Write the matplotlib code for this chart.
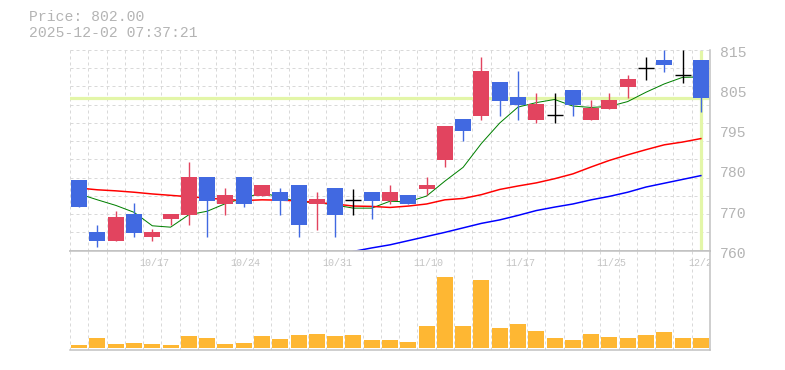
import matplotlib
matplotlib.use("Agg")
import matplotlib.pyplot as plt
import matplotlib.transforms as mtransforms
import numpy as np

# ---------------- data ----------------
dates = ["10/10", "10/14", "10/15", "10/16", "10/17", "10/20", "10/21", "10/22", "10/23", "10/24",
         "10/27", "10/28", "10/29", "10/30", "10/31", "11/4", "11/5", "11/6", "11/7", "11/10",
         "11/11", "11/12", "11/13", "11/14", "11/17", "11/18", "11/19", "11/20", "11/21", "11/25",
         "11/26", "11/27", "11/28", "12/1", "12/2"]
label_dates = ["10/17", "10/24", "10/31", "11/10", "11/17", "11/25", "12/2"]

opens = [778.3, 763.5, 760.9, 768.7, 762.0, 767.3, 768.4, 779.2, 771.6, 779.2,
         773.7, 775.1, 777.1, 771.6, 776.0, 772.7, 775.1, 772.5, 774.0, 775.7,
         784.1, 796.0, 796.9, 806.7, 802.4, 795.8, 797.1, 804.3, 795.8, 799.0,
         805.4, 810.7, 813.1, 808.8, 813.1]
highs = [778.3, 765.5, 769.6, 771.9, 764.4, 768.7, 783.5, 779.2, 776.0, 779.2,
         777.1, 776.0, 777.1, 775.1, 776.0, 775.9, 775.1, 777.1, 774.0, 779.2,
         794.0, 796.0, 814.0, 806.7, 809.9, 803.5, 803.5, 804.3, 801.5, 803.5,
         808.8, 813.9, 816.0, 816.0, 813.1]
lows = [770.6, 759.0, 760.9, 762.0, 760.9, 765.3, 765.3, 762.0, 768.4, 770.6,
        773.7, 768.4, 762.0, 764.1, 762.0, 768.4, 767.3, 771.6, 771.6, 774.0,
        782.2, 789.6, 795.7, 796.9, 795.7, 794.9, 794.9, 797.0, 795.8, 799.0,
        802.2, 807.4, 809.7, 806.6, 798.1]
closes = [770.6, 760.9, 767.6, 763.2, 763.5, 768.7, 779.2, 772.5, 774.0, 771.6,
          777.1, 772.5, 765.3, 772.8, 768.4, 772.7, 772.5, 775.1, 771.6, 777.1,
          794.0, 792.5, 809.9, 801.2, 800.1, 800.3, 797.1, 800.1, 799.3, 801.5,
          807.6, 810.7, 811.7, 808.8, 802.0]
volumes = [800, 2900, 1100, 1400, 1100, 800, 3500, 2900, 1100, 1400,
           3500, 2600, 3800, 4100, 3500, 3800, 2300, 2300, 1700, 6500,
           21200, 6500, 20300, 5900, 7100, 5000, 2900, 2300, 4100, 3200,
           2900, 3800, 4700, 2900, 2900]

ma5 = [774.4, 772.7, 771.1, 769.1, 765.2, 764.8, 768.4, 769.4, 771.6, 773.2,
       774.7, 773.5, 772.1, 771.9, 771.2, 770.3, 770.3, 772.3, 772.1, 773.8,
       778.1, 782.1, 789.0, 794.9, 799.5, 800.8, 801.7, 799.8, 799.4, 799.7,
       801.1, 803.8, 806.2, 808.1, 808.2]
ma25 = [776.1, 775.6, 775.3, 774.9, 774.4, 774.0, 773.6, 773.2, 772.8, 772.5,
        772.7, 772.6, 772.4, 771.9, 771.5, 770.9, 770.8, 770.5, 770.9, 771.5,
        772.7, 773.1, 774.2, 775.7, 776.7, 777.6, 778.8, 780.2, 782.2, 784.1,
        785.7, 787.2, 788.6, 789.4, 790.4]
ma75 = [None] * 15 + [757.8, 758.8, 759.7, 760.9, 762.1, 763.3, 764.6, 765.9, 766.9, 768.2,
                      769.6, 770.6, 771.5, 772.7, 773.7, 774.9, 776.4, 777.5, 778.6, 779.7]

price_labels = ["760", "770", "780", "795", "805", "815"]
current_price = 802.00
timestamp = "2025-12-02 07:37:21"

# ---------------- style ----------------
W, H, DPI = 785, 370, 100
UP = "#e2445f"
DOWN = "#4169e1"
VOLC = "#feb733"
GRID = "#d9d9d9"
BORDER = "#c0c0c0"
TXT = "#b4b4b4"
CUR = "#e3f6a8"
FONT = "Liberation Mono"
px = 72.0 / DPI

fig = plt.figure(figsize=(W / DPI, H / DPI), dpi=DPI)
fig.patch.set_facecolor("white")

ax = fig.add_axes([70 / W, 1 - 250.7 / H, 640 / W, 200.7 / H])
axv = fig.add_axes([70 / W, 1 - 350 / H, 640 / W, 99 / H])

n = len(closes)
x = np.arange(n) + 0.5
ymin, ymax = 758.0, 816.0

# grids
for a in (ax, axv):
    for k in range(0, n):
        a.axvline(k, color=GRID, lw=1 * px, ls=(0, (3, 3)), zorder=0)
for k in range(0, 12):
    ax.axhline(ymin + k * (ymax - ymin) / 11, color=GRID, lw=1 * px, ls=(0, (3, 3)), zorder=0)

# current price lines
ax.axhline(current_price, color=CUR, lw=3.2 * px, zorder=1)
ax.axvline(x[-1], color=CUR, lw=3.2 * px, zorder=1, ymax=0.99)

# moving averages
def ser(v):
    return np.array([np.nan if t is None else t for t in v], dtype=float)

ax.plot(x, ser(ma5), color="#008000", lw=1.0 * px, zorder=2)
ax.plot(x, ser(ma25), color="#ff0000", lw=1.5 * px, zorder=2)
ax.plot(x, ser(ma75), color="#0000ff", lw=1.5 * px, zorder=2)

# candles
bw = 16 / 18.286
for xi, o, h, l, c in zip(x, opens, highs, lows, closes):
    if abs(c - o) < 1e-9:
        ax.vlines(xi, l, h, color="black", lw=1.4 * px, zorder=4)
        ax.hlines(o, xi - bw / 2, xi + bw / 2, color="black", lw=1.4 * px, zorder=4)
        continue
    col = UP if c > o else DOWN
    ax.vlines(xi, l, h, color=col, lw=1.4 * px, zorder=3)
    ax.bar(xi, abs(c - o), bottom=min(o, c), width=bw, color=col, lw=0, zorder=3)

ax.set_xlim(0, n)
ax.set_ylim(ymin, ymax)
ax.set_xticks([])
ax.set_yticks([])
for s in ("top", "left"):
    ax.spines[s].set_visible(False)
for s in ("right", "bottom"):
    ax.spines[s].set_color(BORDER)
    ax.spines[s].set_linewidth(1.5 * px)

# price labels on right
for k, lab in enumerate(price_labels):
    tr = mtransforms.offset_copy(ax.transAxes, fig=fig, x=10, y=-3, units="dots")
    ax.text(1.0, k / (len(price_labels) - 1), lab, transform=tr, ha="left", va="center",
            fontsize=10.6, color=TXT, family=FONT)

# volume
axv.bar(x, volumes, width=bw, color=VOLC, lw=0, zorder=2)
axv.set_xlim(0, n)
axv.set_ylim(-690, 29010)
axv.set_xticks([])
axv.set_yticks([])
axv.spines["left"].set_visible(False)
for s in ("right", "bottom", "top"):
    axv.spines[s].set_color(BORDER)
    axv.spines[s].set_linewidth(1.5 * px)

# date labels
base = mtransforms.blended_transform_factory(axv.transData, axv.transAxes)
for d in label_dates:
    i = dates.index(d)
    tr = mtransforms.offset_copy(base, fig=fig, x=-13, y=0, units="dots")
    axv.text(x[i], 1 - 11.5 / 99, d, transform=tr, ha="left", va="center",
             fontsize=7.2, color="#c4c4c4", family=FONT, clip_on=True)

# header text
fig.text(29 / W, 1 - 17 / H, f"Price: {current_price:.2f}", ha="left", va="center",
         fontsize=10.6, color=TXT, family=FONT)
fig.text(29 / W, 1 - 33 / H, timestamp, ha="left", va="center",
         fontsize=10.6, color=TXT, family=FONT)

fig.savefig("out.png", dpi=DPI, facecolor="white")
